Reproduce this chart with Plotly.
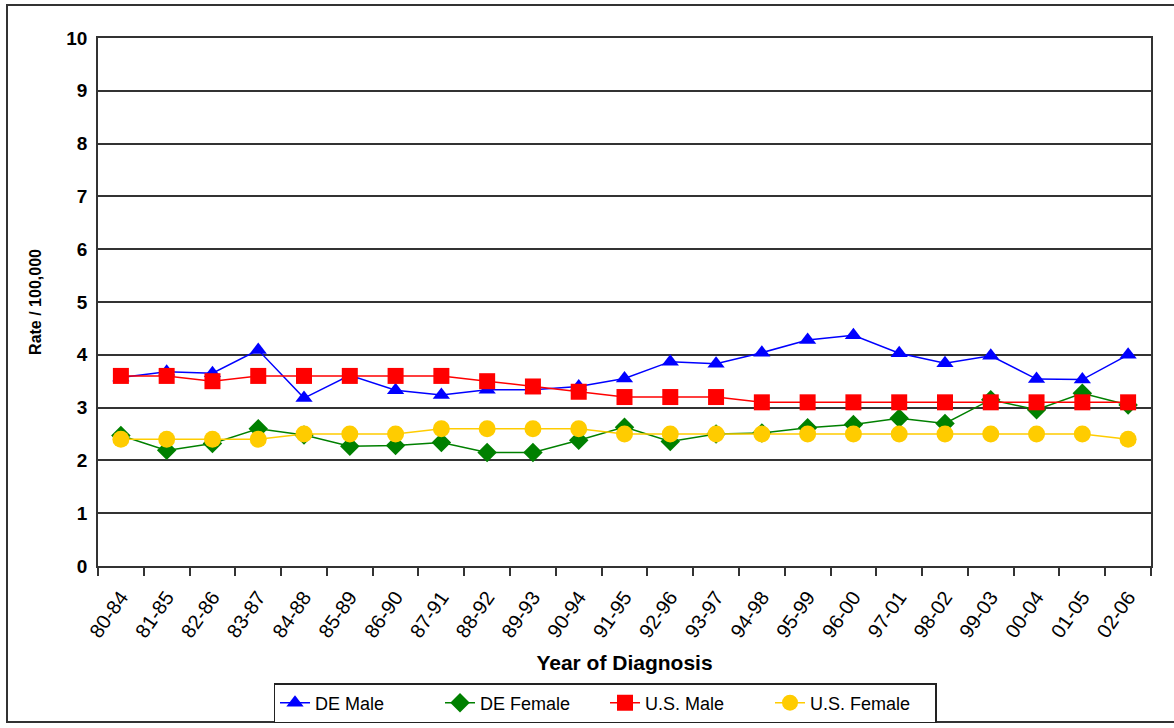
import plotly.graph_objects as go

periods = ["80-84", "81-85", "82-86", "83-87", "84-88", "85-89", "86-90", "87-91",
           "88-92", "89-93", "90-94", "91-95", "92-96", "93-97", "94-98", "95-99",
           "96-00", "97-01", "98-02", "99-03", "00-04", "01-05", "02-06"]

de_male = [3.57, 3.68, 3.65, 4.09, 3.18, 3.61, 3.33, 3.24, 3.34, 3.34, 3.40, 3.55,
           3.87, 3.83, 4.04, 4.28, 4.37, 4.03, 3.84, 3.98, 3.54, 3.53, 4.00]
de_female = [2.47, 2.19, 2.32, 2.60, 2.48, 2.27, 2.28, 2.34, 2.15, 2.15, 2.38, 2.63,
             2.36, 2.50, 2.52, 2.62, 2.68, 2.80, 2.70, 3.15, 2.96, 3.27, 3.05]
us_male = [3.6, 3.6, 3.5, 3.6, 3.6, 3.6, 3.6, 3.6, 3.5, 3.4, 3.3, 3.2,
           3.2, 3.2, 3.1, 3.1, 3.1, 3.1, 3.1, 3.1, 3.1, 3.1, 3.1]
us_female = [2.4, 2.4, 2.4, 2.4, 2.5, 2.5, 2.5, 2.6, 2.6, 2.6, 2.6, 2.5,
             2.5, 2.5, 2.5, 2.5, 2.5, 2.5, 2.5, 2.5, 2.5, 2.5, 2.4]

series = [
    ("DE Male", de_male, "#0000FF", "triangle-up", 15),
    ("DE Female", de_female, "#008000", "diamond", 15),
    ("U.S. Male", us_male, "#FF0000", "square", 16),
    ("U.S. Female", us_female, "#FFCC00", "circle", 17),
]

fig = go.Figure()
for name, vals, color, sym, size in series:
    fig.add_trace(go.Scatter(
        x=periods, y=vals, name=name, mode="lines+markers",
        line=dict(color=color, width=1.5),
        marker=dict(symbol=sym, size=size, color=color, line=dict(width=0)),
    ))

W, H = 1174, 728
L, R, T, B = 98, 1151, 38, 566
pw, ph = R - L, B - T

def px(x):
    return (x - L) / pw

def py(y):
    return (B - y) / ph

fig.update_layout(
    width=W, height=H,
    margin=dict(l=L, r=W - R, t=T, b=H - B, autoexpand=False),
    paper_bgcolor="white", plot_bgcolor="white",
    font=dict(family="Liberation Sans, Arial, sans-serif", size=15, color="black"),
    showlegend=True,
    legend=dict(
        orientation="h", x=px(605), xanchor="center", y=py(683), yanchor="top",
        bordercolor="#222", borderwidth=1.5, font=dict(size=18),
        entrywidth=120, entrywidthmode="pixels", tracegroupgap=0,
    ),
    xaxis=dict(
        type="category", tickson="boundaries", ticks="outside", ticklen=8,
        tickcolor="#333", tickwidth=1.5, tickangle=-55, automargin=False,
        showline=True, linecolor="#333", linewidth=1.5, mirror=True,
        showgrid=False, tickfont=dict(size=20), ticklabelstandoff=10,
        title=dict(text="<b>Year of Diagnosis</b>", font=dict(size=21), standoff=15),
        range=[-0.5, len(periods) - 0.5],
    ),
    yaxis=dict(
        range=[0, 10], dtick=1, showgrid=True, gridcolor="#333", gridwidth=1.5,
        showline=True, linecolor="#333", linewidth=1.5, mirror=True, automargin=False,
        ticks="", tickfont=dict(size=19), ticklabelstandoff=5,
        tickvals=list(range(0, 11)), ticktext=[f"<b>{v}</b>" for v in range(0, 11)],
        title=dict(text="<b>Rate / 100,000</b>", font=dict(size=16), standoff=21),
        zeroline=False,
    ),
    shapes=[dict(
        type="rect", xref="paper", yref="paper",
        x0=px(7), x1=px(1185), y0=py(722), y1=py(5),
        line=dict(color="#333", width=2), fillcolor="rgba(0,0,0,0)", layer="below",
    )],
)

fig.write_html("out.html", config={"displayModeBar": False},
               post_script="document.body.style.margin='0px';")
